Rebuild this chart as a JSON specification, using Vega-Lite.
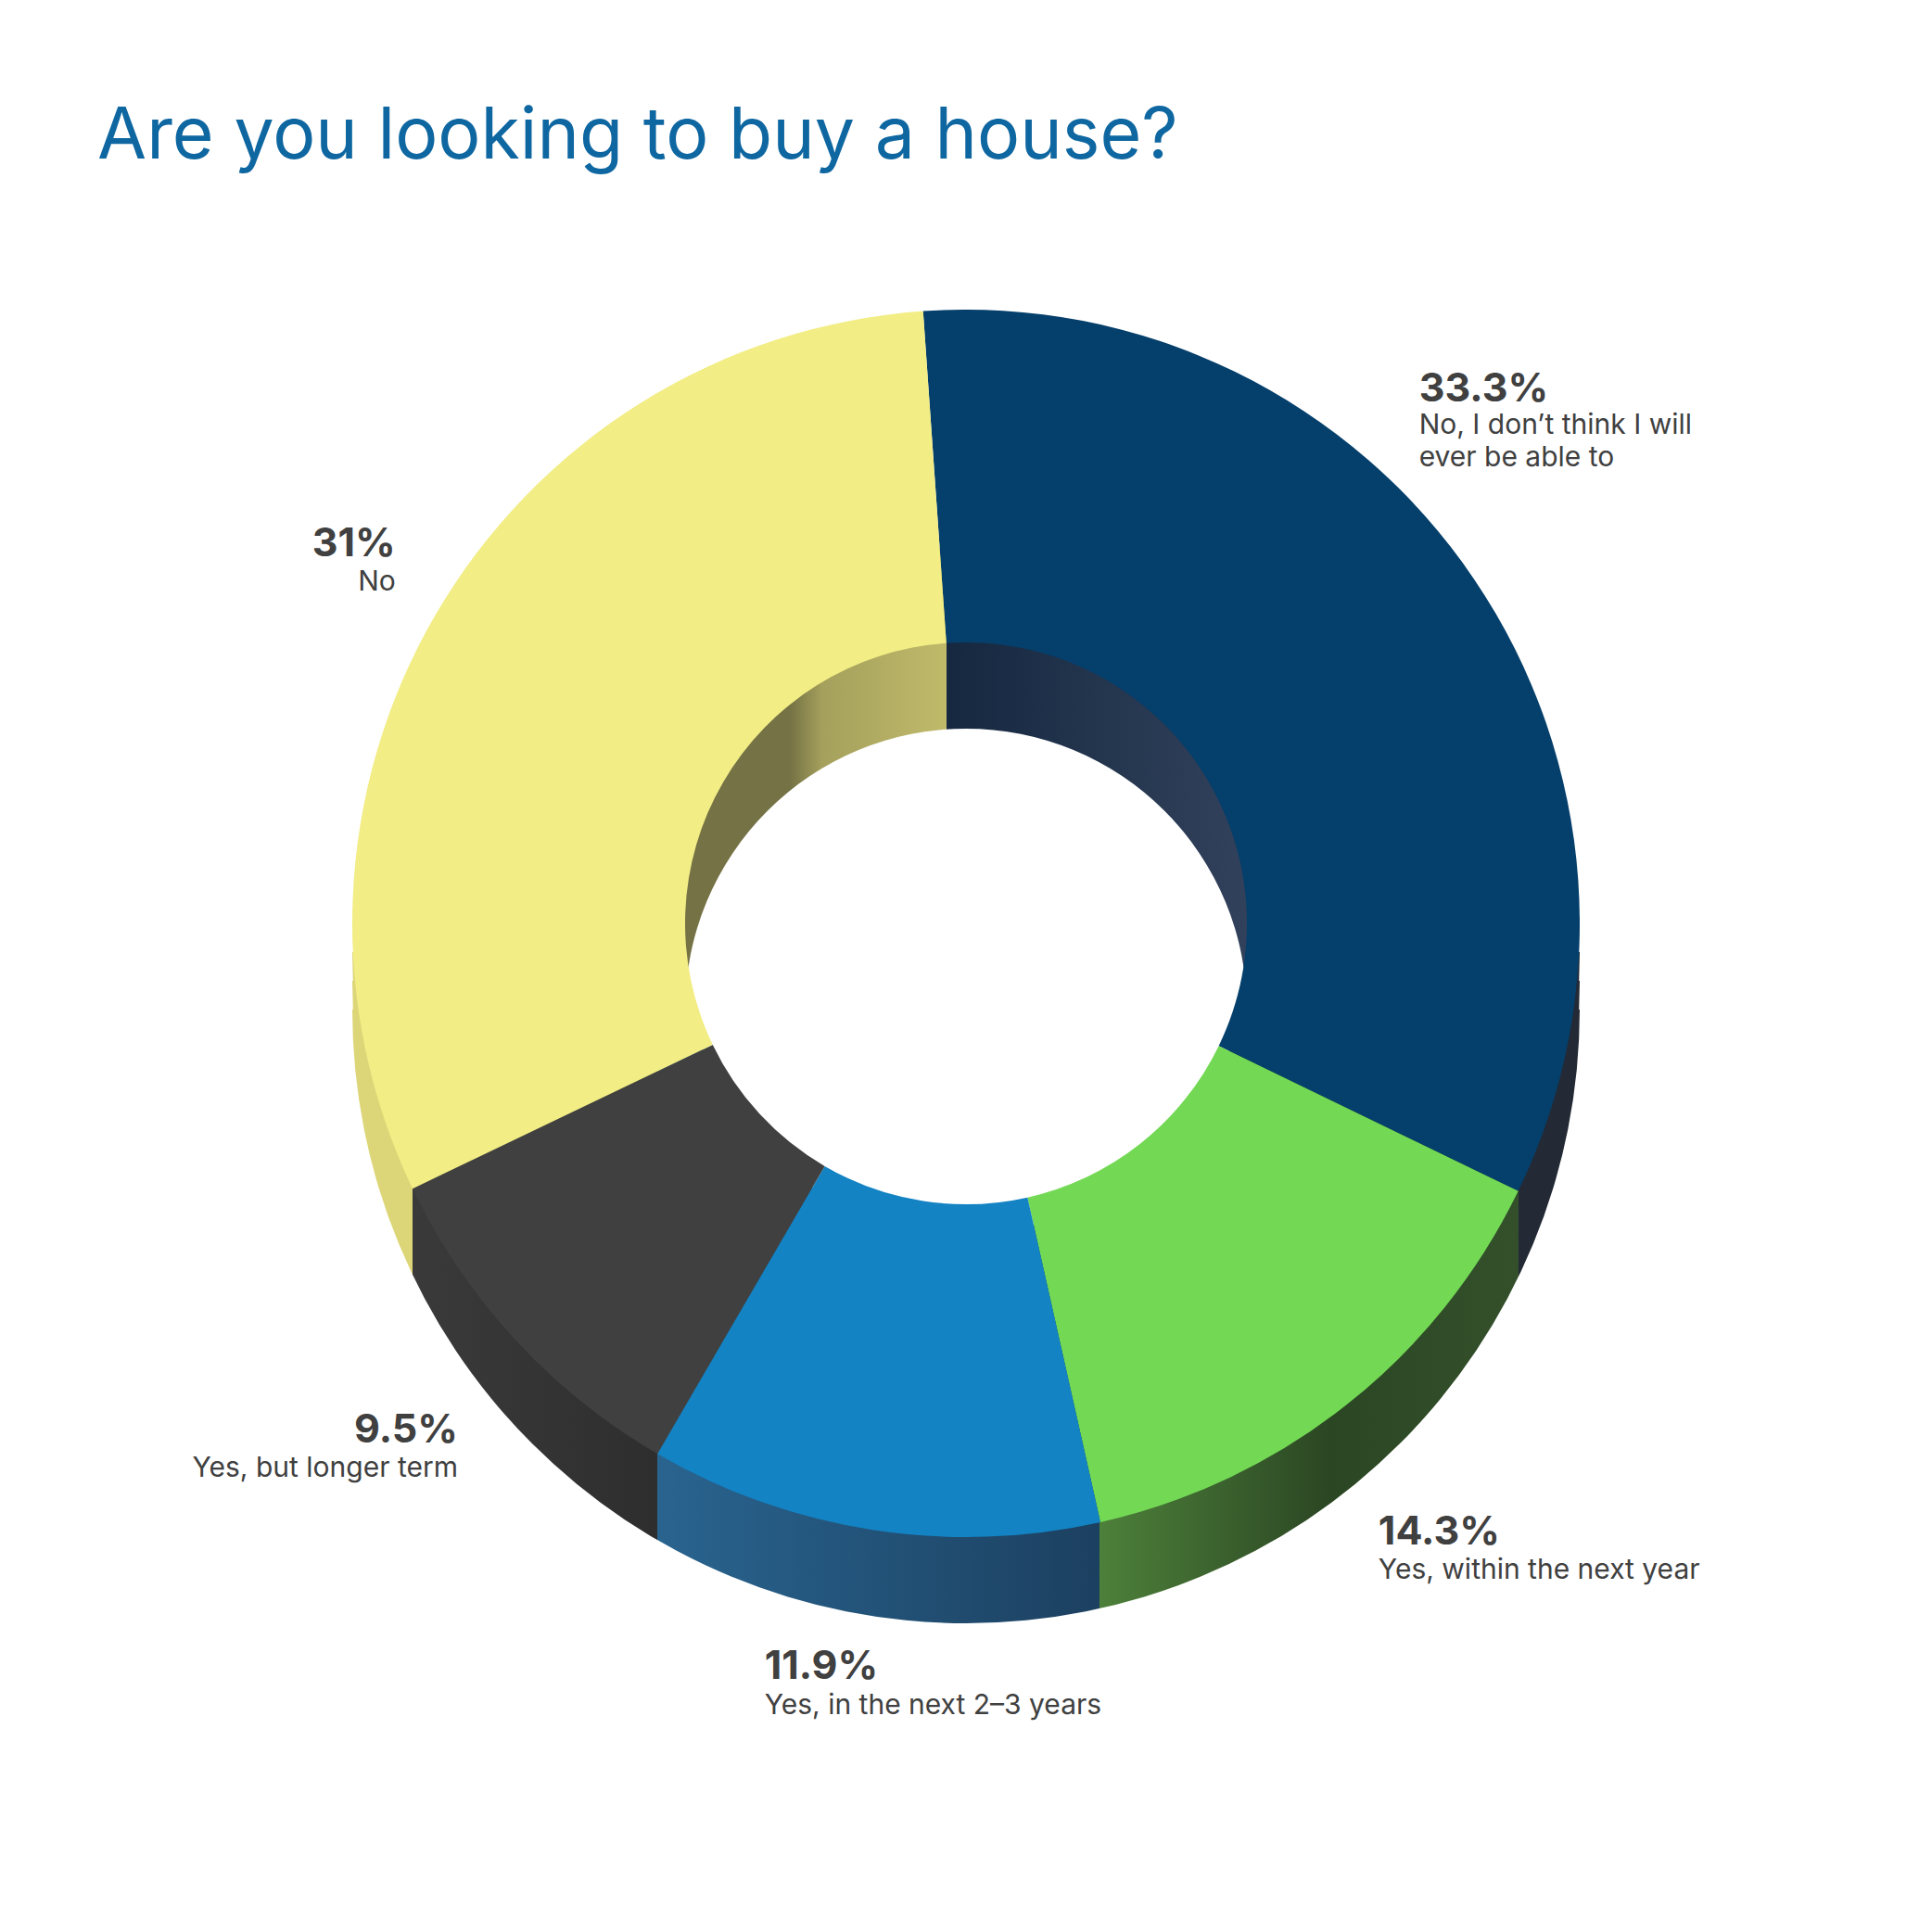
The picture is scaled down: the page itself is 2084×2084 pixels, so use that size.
{
  "$schema": "https://vega.github.io/schema/vega-lite/v6.json",
  "description": "Are you looking to buy a house? 3D-look donut chart.",
  "width": 2084,
  "height": 1992,
  "padding": {"left": 0, "top": 0, "right": 0, "bottom": 92},
  "autosize": "none",
  "background": "white",
  "title": {
    "text": "Are you looking to buy a house?",
    "anchor": "start",
    "frame": "group",
    "orient": "top",
    "baseline": "alphabetic",
    "dx": 105,
    "dy": 248,
    "offset": 0,
    "font": "Inter",
    "fontSize": 77,
    "fontWeight": 400,
    "color": "#0f67a1"
  },
  "data": {
    "values": [
      {"order": 1, "group": "no_never", "value": 33.3, "pct": "33.3%", "label": "No, I don’t think I will\never be able to"},
      {"order": 2, "group": "next_year", "value": 14.3, "pct": "14.3%", "label": "Yes, within the next year"},
      {"order": 3, "group": "two_three", "value": 11.9, "pct": "11.9%", "label": "Yes, in the next 2–3 years"},
      {"order": 4, "group": "longer", "value": 9.5, "pct": "9.5%", "label": "Yes, but longer term"},
      {"order": 5, "group": "no", "value": 31, "pct": "31%", "label": "No"}
    ]
  },
  "transform": [
    {"stack": "value", "sort": [{"field": "order"}], "as": ["v0", "v1"]}
  ],
  "layer": [
    {
      "transform": [{"filter": "datum.order == 1"}],
      "mark": {"type": "arc", "theta": 1.5708, "theta2": 4.7124, "radius": 662, "radius2": 303, "yOffset": 93, "color": {"gradient": "linear", "x1": 1, "x2": 0, "y1": 0, "y2": 0, "stops": [
        {"offset": 0, "color": "#232a35"},
        {"offset": 0.0502, "color": "#232a35"},
        {"offset": 0.0502, "color": "#33502b"},
        {"offset": 0.203, "color": "#2b4623"},
        {"offset": 0.391, "color": "#4d803a"},
        {"offset": 0.391, "color": "#1c4060"},
        {"offset": 0.7515, "color": "#29648f"},
        {"offset": 0.7515, "color": "#2e2e2e"},
        {"offset": 0.951, "color": "#3a3a3a"},
        {"offset": 0.951, "color": "#ddd678"},
        {"offset": 1, "color": "#ddd678"}
      ]}},
      "encoding": {}
    },
    {
      "transform": [{"filter": "datum.order == 1"}],
      "mark": {"type": "arc", "theta": 1.5708, "theta2": 4.7124, "radius": 662, "radius2": 303, "yOffset": 62, "color": {"gradient": "linear", "x1": 1, "x2": 0, "y1": 0, "y2": 0, "stops": [
        {"offset": 0, "color": "#232a35"},
        {"offset": 0.0502, "color": "#232a35"},
        {"offset": 0.0502, "color": "#33502b"},
        {"offset": 0.203, "color": "#2b4623"},
        {"offset": 0.391, "color": "#4d803a"},
        {"offset": 0.391, "color": "#1c4060"},
        {"offset": 0.7515, "color": "#29648f"},
        {"offset": 0.7515, "color": "#2e2e2e"},
        {"offset": 0.951, "color": "#3a3a3a"},
        {"offset": 0.951, "color": "#ddd678"},
        {"offset": 1, "color": "#ddd678"}
      ]}},
      "encoding": {}
    },
    {
      "transform": [{"filter": "datum.order == 1"}],
      "mark": {"type": "arc", "theta": 1.5708, "theta2": 4.7124, "radius": 662, "radius2": 303, "yOffset": 31, "color": {"gradient": "linear", "x1": 1, "x2": 0, "y1": 0, "y2": 0, "stops": [
        {"offset": 0, "color": "#232a35"},
        {"offset": 0.0502, "color": "#232a35"},
        {"offset": 0.0502, "color": "#33502b"},
        {"offset": 0.203, "color": "#2b4623"},
        {"offset": 0.391, "color": "#4d803a"},
        {"offset": 0.391, "color": "#1c4060"},
        {"offset": 0.7515, "color": "#29648f"},
        {"offset": 0.7515, "color": "#2e2e2e"},
        {"offset": 0.951, "color": "#3a3a3a"},
        {"offset": 0.951, "color": "#ddd678"},
        {"offset": 1, "color": "#ddd678"}
      ]}},
      "encoding": {}
    },
    {
      "transform": [{"filter": "datum.order == 1"}],
      "mark": {"type": "arc", "theta": -1.5708, "theta2": 1.5708, "radius": 500, "radius2": 303, "yOffset": 93, "color": {"gradient": "linear", "x1": 0, "x2": 1, "y1": 0, "y2": 0, "stops": [
        {"offset": 0, "color": "#757245"},
        {"offset": 0.31, "color": "#757245"},
        {"offset": 0.345, "color": "#a5a05c"},
        {"offset": 0.479, "color": "#bfba6a"},
        {"offset": 0.479, "color": "#152840"},
        {"offset": 0.812, "color": "#33425c"},
        {"offset": 1, "color": "#33425c"}
      ]}},
      "encoding": {}
    },
    {
      "encoding": {
        "theta": {"field": "v0", "type": "quantitative", "scale": {"domain": [0, 100], "range": [-0.07, 6.2132]}}
      },
      "layer": [
        {
          "mark": {"type": "arc", "radius": 662, "radius2": 303},
          "encoding": {
            "theta2": {"field": "v1"},
            "color": {
              "field": "group",
              "type": "nominal",
              "legend": null,
              "scale": {
                "domain": ["no_never", "next_year", "two_three", "longer", "no"],
                "range": ["#053f6b", "#73d955", "#1383c3", "#404040", "#f2ed85"]
              }
            }
          }
        },
        {
          "transform": [{"filter": "datum.group == 'no_never'"}],
          "mark": {"type": "text", "radius": 720, "align": "left", "baseline": "alphabetic", "xOffset": 539, "yOffset": 155, "font": "Inter", "fontSize": 43, "fontWeight": 700, "color": "#404040"},
          "encoding": {"text": {"field": "pct"}}
        },
        {
          "transform": [{"filter": "datum.group == 'no_never'"}],
          "mark": {"type": "text", "radius": 720, "align": "left", "baseline": "alphabetic", "xOffset": 539, "yOffset": 190, "lineBreak": "\n", "lineHeight": 35, "font": "Inter", "fontSize": 30, "color": "#404040"},
          "encoding": {"text": {"field": "label"}}
        },
        {
          "transform": [{"filter": "datum.group == 'next_year'"}],
          "mark": {"type": "text", "radius": 720, "align": "left", "baseline": "alphabetic", "xOffset": -203, "yOffset": 356, "font": "Inter", "fontSize": 43, "fontWeight": 700, "color": "#404040"},
          "encoding": {"text": {"field": "pct"}}
        },
        {
          "transform": [{"filter": "datum.group == 'next_year'"}],
          "mark": {"type": "text", "radius": 720, "align": "left", "baseline": "alphabetic", "xOffset": -203, "yOffset": 393, "font": "Inter", "fontSize": 30, "color": "#404040"},
          "encoding": {"text": {"field": "label"}}
        },
        {
          "transform": [{"filter": "datum.group == 'two_three'"}],
          "mark": {"type": "text", "radius": 720, "align": "left", "baseline": "alphabetic", "xOffset": -375, "yOffset": 112, "font": "Inter", "fontSize": 43, "fontWeight": 700, "color": "#404040"},
          "encoding": {"text": {"field": "pct"}}
        },
        {
          "transform": [{"filter": "datum.group == 'two_three'"}],
          "mark": {"type": "text", "radius": 720, "align": "left", "baseline": "alphabetic", "xOffset": -375, "yOffset": 150, "font": "Inter", "fontSize": 30, "color": "#404040"},
          "encoding": {"text": {"field": "label"}}
        },
        {
          "transform": [{"filter": "datum.group == 'longer'"}],
          "mark": {"type": "text", "radius": 720, "align": "right", "baseline": "alphabetic", "xOffset": -186, "yOffset": -62, "font": "Inter", "fontSize": 43, "fontWeight": 700, "color": "#404040"},
          "encoding": {"text": {"field": "pct"}}
        },
        {
          "transform": [{"filter": "datum.group == 'longer'"}],
          "mark": {"type": "text", "radius": 720, "align": "right", "baseline": "alphabetic", "xOffset": -186, "yOffset": -25, "font": "Inter", "fontSize": 30, "color": "#404040"},
          "encoding": {"text": {"field": "label"}}
        },
        {
          "transform": [{"filter": "datum.group == 'no'"}],
          "mark": {"type": "text", "radius": 720, "align": "right", "baseline": "alphabetic", "xOffset": 34, "yOffset": -707, "font": "Inter", "fontSize": 43, "fontWeight": 700, "color": "#404040"},
          "encoding": {"text": {"field": "pct"}}
        },
        {
          "transform": [{"filter": "datum.group == 'no'"}],
          "mark": {"type": "text", "radius": 720, "align": "right", "baseline": "alphabetic", "xOffset": 34, "yOffset": -670, "font": "Inter", "fontSize": 30, "color": "#404040"},
          "encoding": {"text": {"field": "label"}}
        }
      ]
    }
  ]
}
